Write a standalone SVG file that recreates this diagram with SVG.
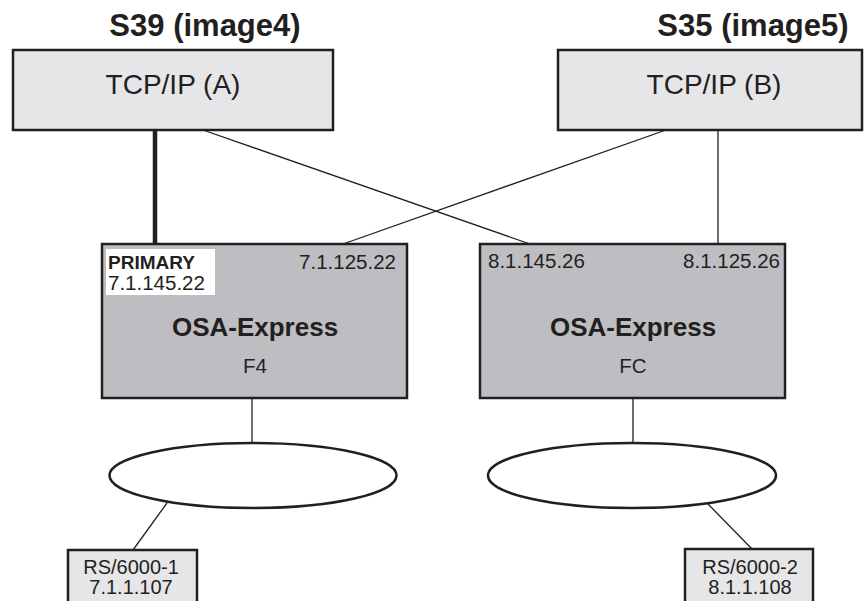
<svg xmlns="http://www.w3.org/2000/svg" width="866" height="601" viewBox="0 0 866 601">
<style>
text{font-family:"Liberation Sans",Arial,sans-serif;fill:#231f20}
.title{font-size:31px;font-weight:bold;text-anchor:middle}
.tcp{font-size:28px;text-anchor:middle}
.big{font-size:26px;font-weight:bold;text-anchor:middle}
.sm{font-size:20.5px}
.rs{font-size:20px;text-anchor:middle}
.mid{text-anchor:middle}
.end{text-anchor:end}
.light{fill:#e6e6e8;stroke:#231f20;stroke-width:2.5}
.osa{fill:#bebec2;stroke:#231f20;stroke-width:2.5}
.conn line{stroke:#231f20;stroke-width:1.3}
.ell{fill:#fff;stroke:#231f20;stroke-width:2.5}
</style>
<rect width="866" height="601" fill="#fff"/>
<g class="conn">
<line x1="155" y1="130" x2="155" y2="244" style="stroke-width:4.5"/>
<line x1="203" y1="130" x2="530" y2="244"/>
<line x1="666" y1="130" x2="343" y2="244"/>
<line x1="718" y1="130" x2="718" y2="244"/>
<line x1="252" y1="398" x2="252" y2="443"/>
<line x1="633" y1="398" x2="633" y2="443"/>
<line x1="167" y1="503" x2="133" y2="550"/>
<line x1="708" y1="504" x2="752" y2="549"/>
</g>
<g id="title-s39"><text class="title" x="205" y="36">S39 (image4)</text></g>
<g id="title-s35"><text class="title" x="753" y="36">S35 (image5)</text></g>
<g id="tcpA">
<rect class="light" x="13" y="50" width="320" height="80"/>
<text class="tcp" x="173" y="94">TCP/IP (A)</text>
</g>
<g id="tcpB">
<rect class="light" x="558" y="50" width="304" height="80"/>
<text class="tcp" x="714" y="94">TCP/IP (B)</text>
</g>
<g id="osaF4">
<rect class="osa" x="102" y="244" width="305" height="154"/>
<rect x="106" y="249" width="109" height="46" fill="#fff"/>
<text x="108" y="269" font-size="19" font-weight="bold">PRIMARY</text>
<text class="sm" x="108" y="290">7.1.145.22</text>
<text class="sm end" x="396" y="269">7.1.125.22</text>
<text class="big" x="255" y="336">OSA-Express</text>
<text class="sm mid" x="255" y="373">F4</text>
</g>
<g id="osaFC">
<rect class="osa" x="480" y="244" width="305" height="154"/>
<text class="sm" x="488" y="268">8.1.145.26</text>
<text class="sm end" x="780" y="268">8.1.125.26</text>
<text class="big" x="633" y="336">OSA-Express</text>
<text class="sm mid" x="633" y="373">FC</text>
</g>
<g id="lan1"><ellipse class="ell" cx="253" cy="475.5" rx="143.5" ry="32.5"/></g>
<g id="lan2"><ellipse class="ell" cx="632" cy="475.5" rx="144" ry="32.5"/></g>
<g id="rs1">
<rect class="light" x="68" y="550" width="129" height="60"/>
<text class="rs" x="131" y="574">RS/6000-1</text>
<text class="rs" x="131" y="594">7.1.1.107</text>
</g>
<g id="rs2">
<rect class="light" x="685" y="549" width="128" height="60"/>
<text class="rs" x="750" y="574">RS/6000-2</text>
<text class="rs" x="750" y="594">8.1.1.108</text>
</g>
</svg>
